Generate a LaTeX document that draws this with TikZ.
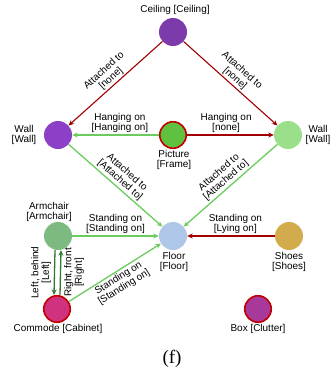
\documentclass[tikz,border=0pt]{standalone}
\usepackage{fontspec}
\setmainfont{Liberation Sans}
\newfontfamily\seriffont{Liberation Serif}
\usetikzlibrary{arrows.meta}
\definecolor{darkred}{HTML}{A00000}
\definecolor{ltgreen}{HTML}{6CCB5F}
\definecolor{dkgreen}{HTML}{2F7A2F}
\definecolor{bordred}{HTML}{C00000}
\begin{document}
\begin{tikzpicture}[x=1bp,y=-1bp,
  font=\fontsize{10}{10.5}\selectfont,
  obj/.style={circle, minimum size=28bp, inner sep=0pt},
  flag/.style={obj, draw=bordred, line width=1.6bp, minimum size=26.5bp},
  lbl/.style={align=center, inner sep=0pt},
  elbl/.style={align=center, inner sep=1.5bp, text=black},
  redge/.style={draw=darkred, line width=1.1bp, -{Stealth[length=5.5bp,width=5bp]}},
  gedge/.style={draw=ltgreen, line width=1.3bp, -{Stealth[length=5.5bp,width=5bp]}},
  dedge/.style={draw=dkgreen, line width=1.3bp, -{Stealth[length=5.5bp,width=5bp]}}]
\useasboundingbox (0,0) rectangle (331,377);
% nodes
\node[obj, fill={rgb,255:red,125;green,58;blue,170}] (ceil) at (173,32) {};
\node[obj, fill={rgb,255:red,140;green,64;blue,200}] (wallL) at (58,135) {};
\node[flag, fill={rgb,255:red,96;green,192;blue,64}] (pic) at (173,135) {};
\node[obj, fill={rgb,255:red,154;green,224;blue,138}] (wallR) at (288,135) {};
\node[obj, fill={rgb,255:red,124;green,186;blue,128}] (arm) at (58,236) {};
\node[obj, fill={rgb,255:red,174;green,198;blue,232}] (floor) at (173,236) {};
\node[obj, fill={rgb,255:red,210;green,172;blue,76}] (shoes) at (289,236) {};
\node[flag, fill={rgb,255:red,208;green,50;blue,128}] (comm) at (57,309) {};
\node[flag, fill={rgb,255:red,168;green,56;blue,154}] (box) at (258,309) {};
% labels
\node[lbl] (tceil) at (175,10) {Ceiling [Ceiling]};
\node[lbl] (twallL) at (24,135) {Wall\\{[Wall]}};
\node[lbl] (tpic) at (174,160) {Picture\\{[Frame]}};
\node[lbl] (twallR) at (318,135) {Wall\\{[Wall]}};
\node[lbl] (tarm) at (49,212) {Armchair\\{[Armchair]}};
\node[lbl] (tfloor) at (174,262) {Floor\\{[Floor]}};
\node[lbl] (tshoes) at (289,262) {Shoes\\{[Shoes]}};
\node[lbl] (tcomm) at (58,329) {Commode [Cabinet]};
\node[lbl] (tbox) at (258,329) {Box [Clutter]};
\node[lbl, font=\seriffont\fontsize{19}{19}\selectfont] (tf) at (172,359) {(f)};
% edges
\draw[redge] (ceil) -- node[elbl, sloped, above, pos=0.5] {Attached to\\{[none]}} (wallL);
\draw[redge] (ceil) -- node[elbl, sloped, above, pos=0.5] {Attached to\\{[none]}} (wallR);
\draw[gedge] (pic) -- node[elbl, above, pos=0.45] {Hanging on\\{[Hanging on]}} (wallL);
\draw[redge] (pic) -- node[elbl, above, pos=0.45] {Hanging on\\{[none]}} (wallR);
\draw[gedge] (wallL) -- node[elbl, sloped, above, pos=0.5] {Attached to\\{[Attached to]}} (floor);
\draw[gedge] (wallR) -- node[elbl, sloped, above, pos=0.5] {Attached to\\{[Attached to]}} (floor);
\draw[gedge] (arm) -- node[elbl, above, pos=0.5] {Standing on\\{[Standing on]}} (floor);
\draw[redge] (shoes) -- node[elbl, above, pos=0.45] {Standing on\\{[Lying on]}} (floor);
\draw[gedge] (comm) -- node[elbl, sloped, below, pos=0.5] {Standing on\\{[Standing on]}} (floor);
\draw[dedge] ([xshift=-3bp]arm.south) -- node[elbl, rotate=90, anchor=south, inner sep=3bp] {Left, behind\\{[Left]}} ([xshift=-3bp]comm.north);
\draw[dedge] ([xshift=3bp]comm.north) -- node[elbl, rotate=90, anchor=north, inner sep=3bp] {Right, front\\{[Right]}} ([xshift=3bp]arm.south);
\end{tikzpicture}
\end{document}
